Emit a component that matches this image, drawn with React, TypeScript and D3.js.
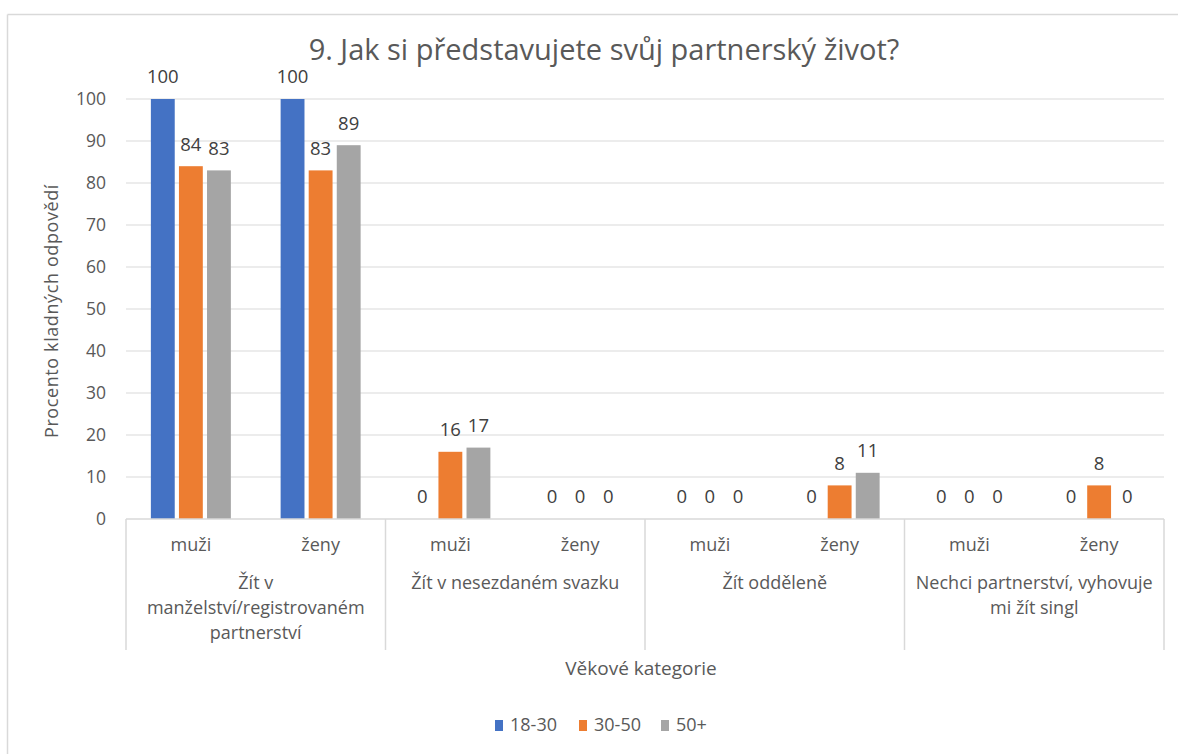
import React from "react";
import * as d3 from "d3";

const title = "9. Jak si představujete svůj partnerský život?";
const yAxisTitle = "Procento kladných odpovědí";
const xAxisTitle = "Věkové kategorie";
const groups = [
  ["Žít v", "manželství/registrovaném", "partnerství"],
  ["Žít v nesezdaném svazku"],
  ["Žít odděleně"],
  ["Nechci partnerství, vyhovuje", "mi žít singl"],
];
const subcats = ["muži", "ženy"];
const series = ["18-30", "30-50", "50+"];
const colors = ["#4472C4", "#ED7D31", "#A5A5A5"];
// one value per (group, subcategory), in order
const values18_30 = [100, 100, 0, 0, 0, 0, 0, 0];
const values30_50 = [84, 83, 16, 0, 0, 8, 0, 8];
const values50p = [83, 89, 17, 0, 0, 11, 0, 0];
const yTicks = [0, 10, 20, 30, 40, 50, 60, 70, 80, 90, 100];

const seriesValues = [values18_30, values30_50, values50p];

const W = 1178;
const H = 754;
const FONT = "'Open Sans', 'Noto Sans', sans-serif";
const TEXT = "#595959";
const GRID = "#D9D9D9";

export default function App() {
  const plotL = 126;
  const plotR = 1164;
  const y = d3.scaleLinear().domain([0, 100]).range([519, 99]);
  const y0 = y(0);
  const gx = d3.scaleBand<number>().domain(d3.range(groups.length)).range([plotL, plotR]).padding(0);
  const sx = d3.scaleBand<string>().domain(subcats).range([0, gx.bandwidth()]).padding(0);
  const bx = d3.scaleBand<string>().domain(series).range([-40, 40]).paddingInner(0.15);

  const sepBottom = 650;

  return (
    <svg width={W} height={H} style={{ position: "absolute", left: 0, top: 0, background: "#fff" }} fontFamily={FONT}>
      <rect x={0} y={0} width={W} height={H} fill="#fff" />
      <line x1={7.5} y1={14.5} x2={W} y2={14.5} stroke={GRID} strokeWidth={1.5} />
      <line x1={7.5} y1={14.5} x2={7.5} y2={H} stroke={GRID} strokeWidth={1.5} />

      <text x={604} y={50} dy="0.35em" textAnchor="middle" fontSize={29} fill={TEXT}>{title}</text>

      {yTicks.map((t) => (
        <g key={t}>
          {t > 0 && <line x1={plotL} x2={plotR} y1={y(t)} y2={y(t)} stroke={GRID} strokeWidth={1} />}
          <text x={106} y={y(t)} dy="0.35em" textAnchor="end" fontSize={17.5} fill={TEXT}>{t}</text>
        </g>
      ))}

      {groups.map((_, gi) =>
        subcats.map((sc, si) => {
          const idx = gi * subcats.length + si;
          const cx = (gx(gi) as number) + (sx(sc) as number) + sx.bandwidth() / 2;
          return (
            <g key={`${gi}-${si}`}>
              {series.map((s, k) => {
                const v = seriesValues[k][idx];
                const x = cx + (bx(s) as number);
                return (
                  <g key={s}>
                    {v > 0 && (
                      <rect x={x} y={y(v)} width={bx.bandwidth()} height={y0 - y(v)} fill={colors[k]} />
                    )}
                    <text x={x + bx.bandwidth() / 2} y={y(v) - 22} dy="0.35em" textAnchor="middle" fontSize={18.5} fill="#404040">
                      {v}
                    </text>
                  </g>
                );
              })}
              <text x={cx} y={545} dy="0.35em" textAnchor="middle" fontSize={18} fill={TEXT}>{sc}</text>
            </g>
          );
        })
      )}

      <line x1={plotL} x2={plotR} y1={y0} y2={y0} stroke={GRID} strokeWidth={1.5} />
      {d3.range(groups.length + 1).map((i) => {
        const x = i < groups.length ? (gx(i) as number) : plotR;
        return <line key={i} x1={x} x2={x} y1={y0} y2={sepBottom} stroke={GRID} strokeWidth={1.5} />;
      })}
      {groups.map((lines, gi) => {
        const cx = (gx(gi) as number) + gx.bandwidth() / 2;
        return (
          <text key={gi} x={cx} y={583} textAnchor="middle" fontSize={18} fill={TEXT}>
            {lines.map((l, li) => (
              <tspan key={li} x={cx} y={583 + li * 25} dy="0.35em">{l}</tspan>
            ))}
          </text>
        );
      })}

      <text x={641} y={668} dy="0.35em" textAnchor="middle" fontSize={19} fill={TEXT}>{xAxisTitle}</text>
      <text transform={`translate(52,${(y(0) + y(100)) / 2 + 2}) rotate(-90)`} textAnchor="middle" dy="0.35em" fontSize={18} letterSpacing={0.6} fill={TEXT}>
        {yAxisTitle}
      </text>

      {series.map((s, k) => {
        const lx = [495, 579, 661][k];
        return (
          <g key={s}>
            <rect x={lx} y={720} width={8} height={11} fill={colors[k]} />
            <text x={lx + 15} y={725} dy="0.35em" fontSize={18} fill={TEXT}>{s}</text>
          </g>
        );
      })}
    </svg>
  );
}
